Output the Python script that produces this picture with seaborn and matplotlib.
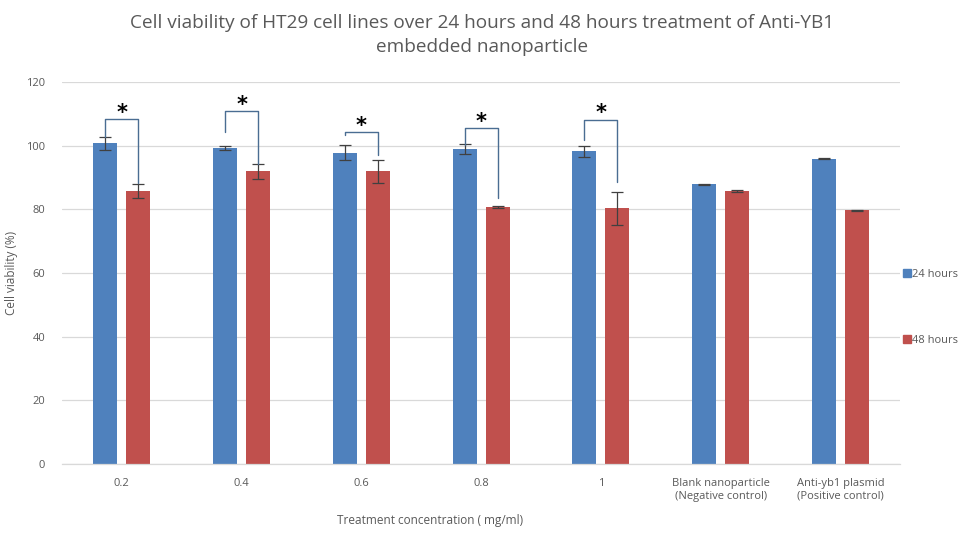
import numpy as np
import pandas as pd
import matplotlib
matplotlib.use("Agg")
import matplotlib.pyplot as plt
from matplotlib.lines import Line2D
import seaborn as sns

# Treatment groups and measured viability (%)
categories = ["0.2", "0.4", "0.6", "0.8", "1",
              "Blank nanoparticle\n(Negative control)",
              "Anti-yb1 plasmid\n(Positive control)"]
series = ["24 hours", "48 hours"]
viability_24h = [100.7, 99.3, 97.8, 98.9, 98.2, 87.9, 95.9]
viability_48h = [85.8, 91.9, 91.9, 80.7, 80.3, 85.8, 79.7]
sd_24h = [2.0, 0.5, 2.4, 1.5, 1.6, 0.1, 0.2]
sd_48h = [2.2, 2.3, 3.5, 0.3, 5.2, 0.3, 0.2]

# Significance brackets (first five groups): top of bracket, end of left/right legs
bracket_top = [108.3, 110.8, 104.2, 105.6, 108.2]
bracket_left_end = [102.8, 104.2, 103.3, 100.2, 101.8]
bracket_right_end = [88.2, 94.2, 97.1, 83.5, 88.7]

title = ("Cell viability of HT29 cell lines over 24 hours and 48 hours treatment of Anti-YB1\n"
         "embedded nanoparticle")

colors = {"24 hours": "#4F81BD", "48 hours": "#C0504D"}
text_gray = "#595959"

df = pd.DataFrame({
    "Group": categories * 2,
    "Time": [series[0]] * len(categories) + [series[1]] * len(categories),
    "Viability": viability_24h + viability_48h,
    "SD": sd_24h + sd_48h,
})

sns.set_theme(style="white")
plt.rcParams["font.family"] = ["Open Sans", "DejaVu Sans"]

fig = plt.figure(figsize=(9.65, 5.41), dpi=100)
ax = fig.add_axes([0.0642, 0.1423, 0.8688, 0.7061])

sns.barplot(data=df, x="Group", y="Viability", hue="Time", order=categories,
            hue_order=series, palette=colors, errorbar=None, width=0.552,
            gap=0.275, saturation=1, ax=ax, legend=False, linewidth=0)

# Error bars at bar centres
centers = {}
for container, name, vals, errs in zip(ax.containers, series,
                                       [viability_24h, viability_48h],
                                       [sd_24h, sd_48h]):
    xs = [p.get_x() + p.get_width() / 2 for p in container.patches]
    centers[name] = xs
    ax.errorbar(xs, vals, yerr=errs, fmt="none", ecolor="#404040",
                elinewidth=0.9, capsize=4, capthick=0.9, zorder=3)

# Significance brackets with asterisks
for i, (top, le, re) in enumerate(zip(bracket_top, bracket_left_end, bracket_right_end)):
    xl = centers["24 hours"][i]
    xr = centers["48 hours"][i]
    ax.plot([xl, xl, xr, xr], [le, top, top, re], color="#4a6d92",
            linewidth=1.0, zorder=4)
    ax.text((xl + xr) / 2, top - 1.2, "*", ha="center", va="bottom",
            fontsize=15, fontweight="bold", color="black",
            family="DejaVu Sans")

ax.set_ylim(0, 120)
ax.set_xlim(-0.5, len(categories) - 0.5)
ax.set_yticks(np.arange(0, 121, 20))
ax.yaxis.grid(True, color="#d9d9d9", linewidth=0.9)
ax.set_axisbelow(True)
for s in ["top", "right", "left"]:
    ax.spines[s].set_visible(False)
ax.spines["bottom"].set_color("#d9d9d9")
ax.spines["bottom"].set_linewidth(0.9)
ax.tick_params(axis="both", length=0, colors=text_gray, labelsize=8)
ax.tick_params(axis="x", pad=10)
ax.tick_params(axis="y", pad=12)

ax.set_xlabel("Treatment concentration ( mg/ml)", fontsize=8.5, color=text_gray)
ax.xaxis.set_label_coords((430 - 62) / 838, -0.13)
ax.set_ylabel("Cell viability (%)", fontsize=8.5, color=text_gray)
ax.yaxis.set_label_coords(-0.052, 0.5)

fig.text(0.5, 0.935, title, ha="center", va="center", fontsize=13.7,
         color=text_gray, linespacing=1.45)

handles = [Line2D([0], [0], marker="s", linestyle="none", markersize=5.5,
                  markerfacecolor=colors[s], markeredgecolor=colors[s]) for s in series]
fig.legend(handles, series, loc="center left", bbox_to_anchor=(0.935, 0.4325),
           frameon=False, fontsize=8, labelcolor=text_gray, handletextpad=0.1,
           labelspacing=4.95, handlelength=0.8, borderaxespad=0, borderpad=0)

fig.savefig("out.png", dpi=100)
